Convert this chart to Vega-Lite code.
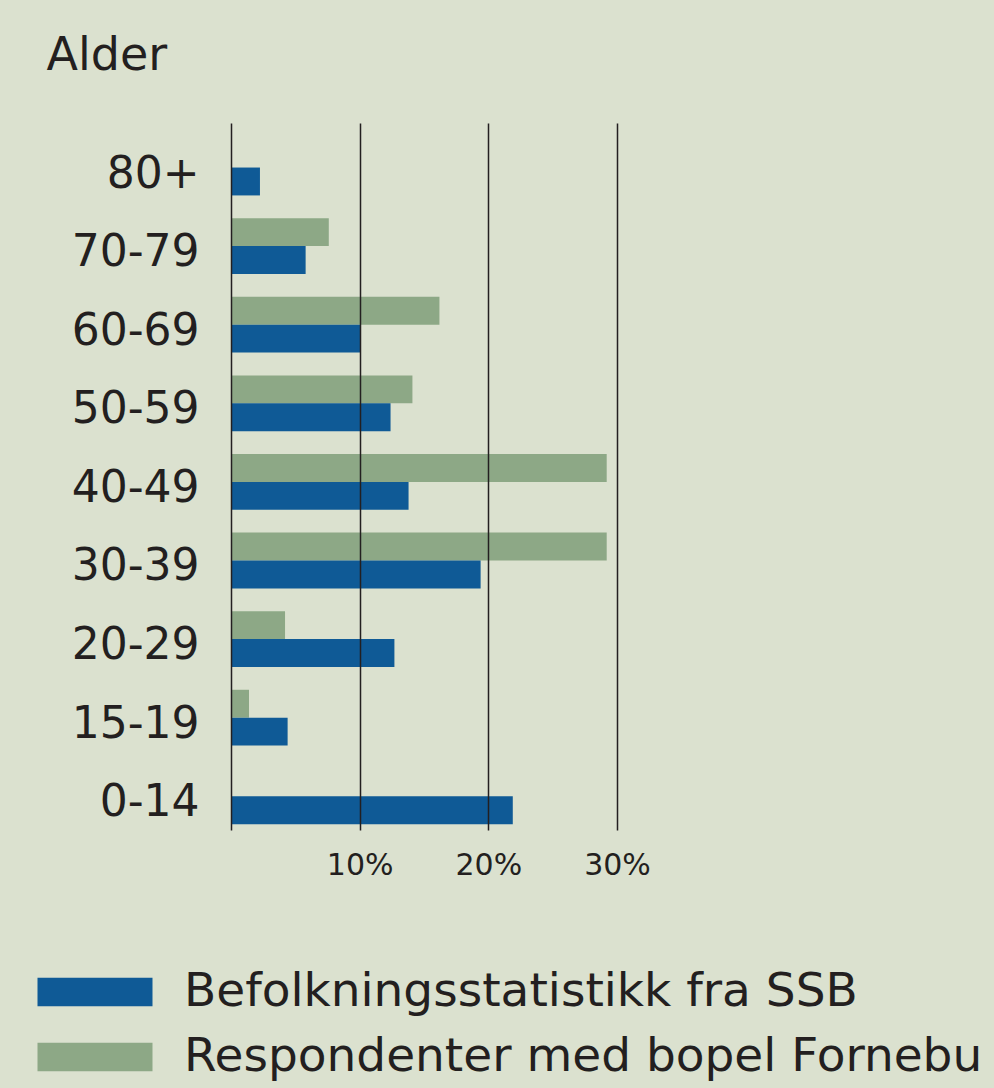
{
  "$schema": "https://vega.github.io/schema/vega-lite/v6.json",
  "autosize": {"type": "none"},
  "width": 386,
  "height": 707,
  "padding": {"left": 231, "top": 123, "right": 377, "bottom": 258},
  "background": "#dbe1cf",
  "config": {
    "view": {"stroke": null},
    "font": "DejaVu Sans"
  },
  "data": {
    "values": [
      {"alder": "80+", "serie": "Befolkningsstatistikk fra SSB", "andel": 2.25},
      {"alder": "70-79", "serie": "Respondenter med bopel Fornebu", "andel": 7.6},
      {"alder": "70-79", "serie": "Befolkningsstatistikk fra SSB", "andel": 5.8},
      {"alder": "60-69", "serie": "Respondenter med bopel Fornebu", "andel": 16.2},
      {"alder": "60-69", "serie": "Befolkningsstatistikk fra SSB", "andel": 10.1},
      {"alder": "50-59", "serie": "Respondenter med bopel Fornebu", "andel": 14.1},
      {"alder": "50-59", "serie": "Befolkningsstatistikk fra SSB", "andel": 12.4},
      {"alder": "40-49", "serie": "Respondenter med bopel Fornebu", "andel": 29.2},
      {"alder": "40-49", "serie": "Befolkningsstatistikk fra SSB", "andel": 13.8},
      {"alder": "30-39", "serie": "Respondenter med bopel Fornebu", "andel": 29.2},
      {"alder": "30-39", "serie": "Befolkningsstatistikk fra SSB", "andel": 19.4},
      {"alder": "20-29", "serie": "Respondenter med bopel Fornebu", "andel": 4.2},
      {"alder": "20-29", "serie": "Befolkningsstatistikk fra SSB", "andel": 12.7},
      {"alder": "15-19", "serie": "Respondenter med bopel Fornebu", "andel": 1.4},
      {"alder": "15-19", "serie": "Befolkningsstatistikk fra SSB", "andel": 4.4},
      {"alder": "0-14", "serie": "Befolkningsstatistikk fra SSB", "andel": 21.9}
    ]
  },
  "mark": {"type": "bar", "cornerRadius": 0},
  "encoding": {
    "y": {
      "field": "alder",
      "type": "nominal",
      "sort": ["80+", "70-79", "60-69", "50-59", "40-49", "30-39", "20-29", "15-19", "0-14"],
      "scale": {"paddingInner": 0.29, "paddingOuter": 0.143, "align": 0.74},
      "axis": {
        "title": "Alder",
        "titleAngle": 0,
        "titleX": -185,
        "titleY": -54,
        "titleAlign": "left",
        "titleBaseline": "alphabetic",
        "titleFontSize": 46,
        "titleFontWeight": "normal",
        "titleColor": "#231f20",
        "domain": false,
        "ticks": false,
        "labelPadding": 32,
        "labelOffset": 7,
        "labelFontSize": 44,
        "labelColor": "#231f20"
      }
    },
    "yOffset": {
      "field": "serie",
      "type": "nominal",
      "sort": ["Respondenter med bopel Fornebu", "Befolkningsstatistikk fra SSB"],
      "scale": {"paddingInner": 0, "paddingOuter": 0}
    },
    "x": {
      "field": "andel",
      "type": "quantitative",
      "scale": {"domain": [0, 30], "nice": false},
      "axis": {
        "title": null,
        "values": [0, 10, 20, 30],
        "labelExpr": "datum.value == 0 ? '' : datum.value + '%'",
        "labelFlush": false,
        "labelOverlap": false,
        "grid": true,
        "gridColor": "#231f20",
        "gridWidth": 1.5,
        "gridOpacity": 1,
        "domain": false,
        "ticks": false,
        "labelPadding": 20,
        "labelFontSize": 30,
        "labelColor": "#231f20",
        "zindex": 1
      }
    },
    "color": {
      "field": "serie",
      "type": "nominal",
      "scale": {
        "domain": ["Befolkningsstatistikk fra SSB", "Respondenter med bopel Fornebu"],
        "range": ["#0f5a96", "#8da886"]
      },
      "legend": {
        "title": null,
        "orient": "none",
        "legendX": -165,
        "legendY": 840,
        "direction": "vertical",
        "padding": 0,
        "symbolType": "M-2,-0.5H2V0.5H-2Z",
        "symbolSize": 3306,
        "symbolStrokeWidth": 0,
        "symbolOpacity": 1,
        "labelFontSize": 47,
        "labelColor": "#231f20",
        "labelOffset": 60,
        "labelLimit": 2000,
        "rowPadding": 13
      }
    }
  }
}
